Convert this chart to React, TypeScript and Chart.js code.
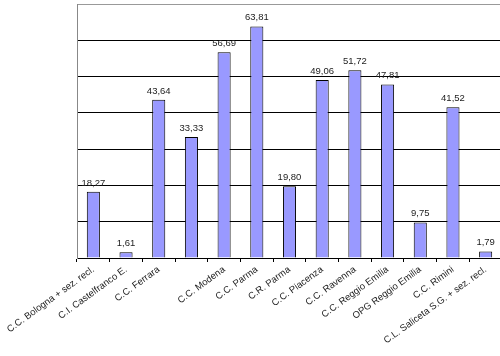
import React, { useEffect, useRef } from "react";
import { Chart, registerables } from "chart.js";

Chart.register(...registerables);

const categories: string[] = [
  "C.C. Bologna + sez. recl.",
  "C.I. Castelfranco E.",
  "C.C. Ferrara",
  "",
  "C.C. Modena",
  "C.C. Parma",
  "C.R. Parma",
  "C.C. Piacenza",
  "C.C. Ravenna",
  "C.C. Reggio Emilia",
  "OPG Reggio Emilia",
  "C.C. Rimini",
  "C.L. Saliceta S.G. + sez. recl.",
];

const values: number[] = [18.27, 1.61, 43.64, 33.33, 56.69, 63.81, 19.8, 49.06, 51.72, 47.81, 9.75, 41.52, 1.79];

const yMin = 0;
const yMax = 70;
const yStep = 10;

const FONT = "'Liberation Sans', Arial, sans-serif";

const valueLabels = {
  id: "valueLabels",
  afterDatasetsDraw(chart: any) {
    const ctx = chart.ctx;
    const meta = chart.getDatasetMeta(0);
    ctx.save();
    ctx.font = `9.5px ${FONT}`;
    ctx.fillStyle = "#222";
    ctx.textAlign = "center";
    ctx.textBaseline = "bottom";
    meta.data.forEach((el: any, i: number) => {
      const txt = values[i].toFixed(2).replace(".", ",");
      ctx.fillText(txt, el.x, el.y - 4);
    });
    ctx.restore();
  },
};

export default function App() {
  const ref = useRef<HTMLCanvasElement | null>(null);
  useEffect(() => {
    if (!ref.current) return;
    const chart = new Chart(ref.current, {
      type: "bar",
      data: {
        labels: categories,
        datasets: [
          {
            data: values,
            backgroundColor: "#9999FF",
            borderColor: "#000000",
            borderWidth: 1,
            barPercentage: 0.5,
            categoryPercentage: 0.8,
          },
        ],
      },
      options: {
        animation: false,
        responsive: false,
        maintainAspectRatio: false,
        layout: { padding: { top: 4, right: 1, left: 0, bottom: 0 } },
        plugins: {
          legend: { display: false },
          tooltip: { enabled: false },
        },
        scales: {
          x: {
            grid: {
              display: true,
              drawOnChartArea: false,
              drawTicks: true,
              tickLength: 4,
              color: "#000",
              offset: true,
            },
            border: { color: "#000", width: 1 },
            ticks: {
              autoSkip: false,
              minRotation: 36,
              maxRotation: 36,
              padding: 2,
              color: "#222",
              font: { size: 9.5, family: FONT },
            },
            afterFit: (scale: any) => {
              scale.height = 98;
            },
          },
          y: {
            min: yMin,
            max: yMax,
            ticks: { display: false, stepSize: yStep },
            grid: {
              drawTicks: false,
              color: (c: any) => (c.tick && c.tick.value === yMax ? "#999" : "#000"),
              lineWidth: 1,
            },
            border: { color: "#888", width: 1 },
            afterFit: (scale: any) => {
              scale.width = 77;
            },
          },
        },
      },
      plugins: [valueLabels],
    });
    return () => chart.destroy();
  }, []);
  return (
    <div style={{ position: "fixed", left: 0, top: 0, width: 500, height: 356, overflow: "hidden", background: "#fff" }}>
      <canvas ref={ref} width={503} height={356} style={{ display: "block", width: 503, height: 356 }} />
    </div>
  );
}
